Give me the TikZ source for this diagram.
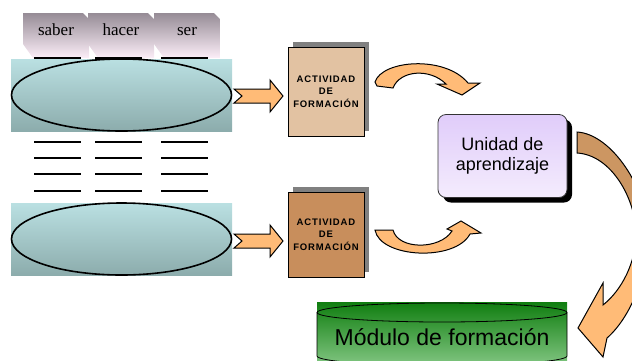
\documentclass[tikz,border=0pt]{standalone}
\usepackage{fontspec}
\setmainfont{Liberation Serif}
\setsansfont{Liberation Sans}
\usetikzlibrary{shadows}
\usetikzlibrary{positioning}
\usetikzlibrary{calc}

\definecolor{tabtop}{RGB}{150,140,150}
\definecolor{tabbot}{RGB}{252,238,248}
\definecolor{paneltop}{RGB}{186,224,226}
\definecolor{panelbot}{RGB}{140,172,172}
\definecolor{orangefill}{RGB}{255,187,119}
\definecolor{brownfill}{RGB}{204,150,98}
\definecolor{tanbox}{RGB}{226,194,162}
\definecolor{brownbox}{RGB}{200,142,92}
\definecolor{unitop}{RGB}{224,204,250}
\definecolor{unibot}{RGB}{244,236,253}
\definecolor{greentop}{RGB}{16,126,16}
\definecolor{greenbot}{RGB}{124,194,124}

\tikzset{notcharrow/.pic={
  \draw[arrowfill] (0,-7) -- (36,-7) -- (36,-16) -- (49,0) -- (36,16) -- (36,7) -- (0,7) -- (8,0) -- cycle;}}

\begin{document}
\begin{tikzpicture}
  [x=1pt,y=-1pt,
  tab/.style={draw=none,top color=tabtop,bottom color=tabbot},
  tablabel/.style={anchor=base,inner sep=0pt,font=\fontsize{17}{17}\selectfont},
  panel/.style={rectangle,draw=none,top color=paneltop,bottom color=panelbot,minimum width=221pt,minimum height=72pt,inner sep=0pt},
  oval/.style={draw=black,line width=1.6pt},
  arrowfill/.style={draw=black,line width=1pt,fill=orangefill,line join=miter},
  actbox/.style={rectangle,draw=black,line width=0.8pt,minimum width=76pt,inner sep=0pt,align=center,
    font=\sffamily\bfseries\fontsize{9.5}{12.5}\selectfont\addfontfeature{LetterSpace=9},
    drop shadow={shadow xshift=5pt,shadow yshift=5pt,fill=gray,opacity=1}},
  unibox/.style={rectangle,rounded corners=8pt,draw=black!80,line width=0.8pt,top color=unitop,bottom color=unibot,
    minimum width=129pt,minimum height=83pt,align=center,font=\sffamily\fontsize{18}{20}\selectfont,
    drop shadow={shadow xshift=5pt,shadow yshift=-5pt,fill=black,opacity=1}},
  fondo/.style={rectangle,draw=none,top color=greentop,bottom color=greenbot,minimum width=250pt,minimum height=60pt,inner sep=0pt}]
  \path[use as bounding box,clip] (0,0) rectangle (632,360);

  % saber / hacer / ser
  \foreach \x/\word in {23/saber,88/hacer,154/ser}{
    \path[tab] (\x,13) -- (\x+60,13) -- (\x+66,19) -- (\x+66,58) -- (\x+10,58) -- (\x,44) -- cycle;
    \node[tablabel] (\word) at (\x+33,35) {\word};
  }

  \node[panel] (panelA) at (121.5,95) {};
  \draw[oval] (panelA.center) ellipse (110 and 36);
  \node[panel] (panelB) at (121.5,239) {};
  \draw[oval] (panelB.center) ellipse (110 and 36);

  \foreach \y/\w in {58/1.4,142/1.6,158/1.1,174/1.6,191/1.1}
    \foreach \x in {34,95,161}
      \draw[line width=\w pt] (\x,\y) -- (\x+47,\y);

  \pic at (234,96) {notcharrow};
  \pic at (234,241) {notcharrow};

  \node[actbox,fill=tanbox,minimum height=89pt] (actA) at (326,91.5) {ACTIVIDAD\\DE\\FORMACIÓN};
  \node[actbox,fill=brownbox,minimum height=85pt] (actB) at (326,234.5) {ACTIVIDAD\\DE\\FORMACIÓN};

  % curved arrows
  \draw[arrowfill] (375,82) .. controls (382,60) and (445,55) .. (468,83) -- (480,83) -- (462,95) -- (437,84) -- (446,84)
    .. controls (430,68) and (400,70) .. (393,88) -- (377,86) -- cycle;
  \draw[arrowfill] (375,230) -- (393,230) .. controls (398,250) and (440,250) .. (452,231) -- (447,229) -- (461,221)
    -- (481,233) -- (470,234) .. controls (455,262) and (380,258) .. (375,230) -- cycle;

  \node[unibox] (unidad) at (502.5,156) {Unidad de\\aprendizaje};

  % big arrow, brown at the top and orange at the bottom
  \draw[line width=1pt,fill=orangefill,path picture={\fill[brownfill] (560,100) rectangle (660,234);}]
    (577,132) .. controls (612,134) and (648,190) .. (648,234) .. controls (648,275) and (630,318) .. (607,338)
    -- (603,357) -- (578,328) -- (603,283) -- (603,305)
    .. controls (622,290) and (636,262) .. (636,234) .. controls (636,200) and (612,155) .. (577,153) -- cycle;

  % cylinder
  \node[fondo] (fondo) at (442,332) {};
  \draw[line width=0.8pt] (442,312.5) ellipse (125 and 9.5);
  \draw[line width=0.8pt] (317,312.5) -- (317,356) arc[start angle=180,end angle=0,x radius=125,y radius=9.5] -- (567,312.5);
  \node[anchor=base,font=\sffamily\fontsize{23}{23}\selectfont] (modulo) at (442,345) {Módulo de formación};
\end{tikzpicture}
\end{document}
